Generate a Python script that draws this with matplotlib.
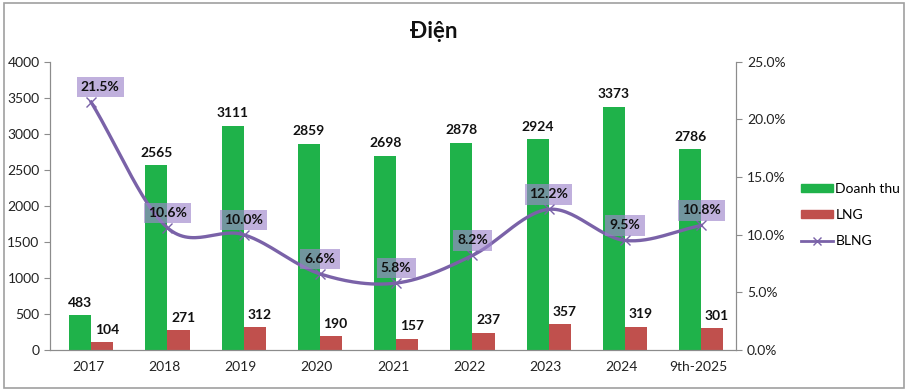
import numpy as np
import matplotlib
matplotlib.use("Agg")
import matplotlib.pyplot as plt
from matplotlib.patches import Rectangle
from matplotlib.lines import Line2D

categories = ["2017", "2018", "2019", "2020", "2021", "2022", "2023", "2024", "9th-2025"]
doanh_thu = [483, 2565, 3111, 2859, 2698, 2878, 2924, 3373, 2786]
lng = [104, 271, 312, 190, 157, 237, 357, 319, 301]
blng = [21.5, 10.6, 10.0, 6.6, 5.8, 8.2, 12.2, 9.5, 10.8]

plt.rcParams['font.family'] = ['Lato', 'DejaVu Sans']

GREEN = "#1fb24a"
RED = "#c0504d"
PURPLE = "#7a62a8"

fig = plt.figure(figsize=(9.08, 3.91), dpi=100)
fig.patches.append(Rectangle((0.004, 0.008), 0.992, 0.985, transform=fig.transFigure,
                             fill=False, edgecolor="#a0a0a0", linewidth=1.2))
ax = fig.add_axes([0.055, 0.105, 0.756, 0.737])
ax2 = ax.twinx()

x = np.arange(len(categories))
w = 0.29
ax.bar(x - w / 2 + 0.04, doanh_thu, w, color=GREEN, zorder=2)
ax.bar(x + w / 2 + 0.04, lng, w, color=RED, zorder=2)
for xi, v in zip(x, doanh_thu):
    ax.text(xi - w / 2 + 0.04, v + 90, str(v), ha="center", va="bottom",
            fontsize=10, fontweight="bold", color="#111111")
for xi, v in zip(x, lng):
    ax.text(xi + w / 2 + 0.1, v + 90, str(v), ha="center", va="bottom",
            fontsize=10, fontweight="bold", color="#111111")

ax.set_xlim(-0.5, len(categories) - 0.5)
ax.set_ylim(0, 4000)
ax.set_yticks(range(0, 4001, 500))
ax.set_xticks(x)
ax.set_xticklabels(categories)
ax2.set_ylim(0, 25)
ax2.set_yticks(np.arange(0, 25.1, 5))
ax2.set_yticklabels([f"{t:.1f}%" for t in np.arange(0, 25.1, 5)])

for a in (ax, ax2):
    for s in ("top",):
        a.spines[s].set_visible(False)
    for s in ("left", "right", "bottom"):
        a.spines[s].set_color("#8c8c8c")
    a.tick_params(colors="#8c8c8c", labelcolor="#222222", labelsize=10, length=4)
ax.tick_params(axis="x", length=0, pad=8)

# Smoothed line (Catmull-Rom rendering through the data points)
def catmull_rom(xs, ys, n=30):
    xs = np.asarray(xs, float); ys = np.asarray(ys, float)
    px = np.concatenate([[2 * xs[0] - xs[1]], xs, [2 * xs[-1] - xs[-2]]])
    py = np.concatenate([[2 * ys[0] - ys[1]], ys, [2 * ys[-1] - ys[-2]]])
    ox, oy = [], []
    t = np.linspace(0, 1, n, endpoint=False)
    for i in range(1, len(px) - 2):
        for arr, out in ((px, ox), (py, oy)):
            p0, p1, p2, p3 = arr[i - 1], arr[i], arr[i + 1], arr[i + 2]
            out.extend(0.5 * ((2 * p1) + (-p0 + p2) * t + (2 * p0 - 5 * p1 + 4 * p2 - p3) * t ** 2
                              + (-p0 + 3 * p1 - 3 * p2 + p3) * t ** 3))
    ox.append(xs[-1]); oy.append(ys[-1])
    return np.array(ox), np.array(oy)

xl = x + 0.04
sx, sy = catmull_rom(xl, blng)
ax2.plot(sx, sy, color=PURPLE, linewidth=2.4, zorder=3)
ax2.plot(xl, blng, linestyle="none", marker="x", markersize=7, color=PURPLE,
         markeredgewidth=1.0, zorder=4)
for i, (xi, v) in enumerate(zip(xl, blng)):
    dx = 0.12 if i == 0 else 0.0
    ax2.text(xi + dx, v + 1.3, f"{v:.1f}%", ha="center", va="center", fontsize=10,
             fontweight="bold", color="#111111", zorder=5,
             bbox=dict(boxstyle="square,pad=0.3", facecolor="#9e86cc", alpha=0.65,
                       edgecolor="none"))

fig.text(0.478, 0.92, "Điện", ha="center", va="center", fontsize=16, fontweight="bold",
         color="#111111")

handles = [Rectangle((0, 0), 1, 1, color=GREEN),
           Rectangle((0, 0), 1, 1, color=RED),
           Line2D([0], [0], color=PURPLE, linewidth=2, marker="x", markersize=6)]
leg = fig.legend(handles, ["Doanh thu", "LNG", "BLNG"], loc="center left",
                 bbox_to_anchor=(0.868, 0.45), frameon=False, fontsize=10,
                 handlelength=2.3, handleheight=0.45, labelspacing=1.0, handletextpad=0.2)

fig.savefig("out.png", dpi=100)
